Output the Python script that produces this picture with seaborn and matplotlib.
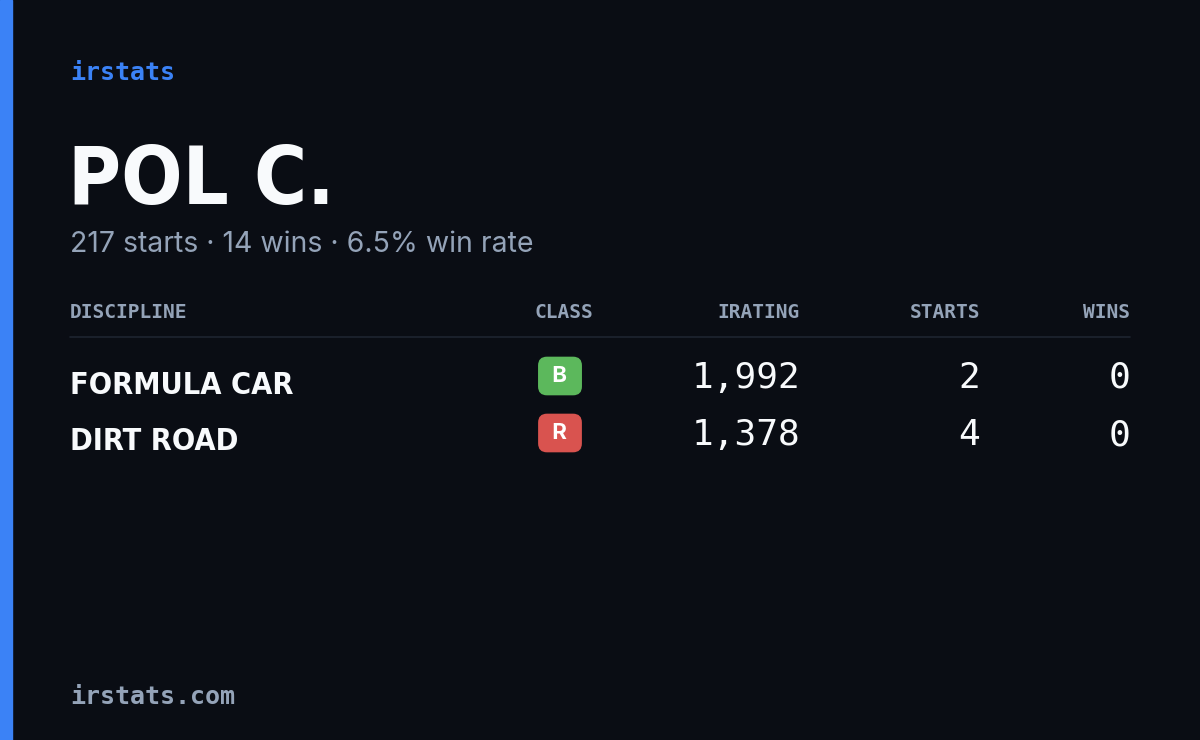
import matplotlib

matplotlib.use("Agg")

import matplotlib.pyplot as plt
import seaborn as sns
from matplotlib.patches import Rectangle

sns.set_theme(style="dark")

BG = "#0a0d14"
BLUE = "#3b82f6"
GREY = "#94a3b8"
WHITE = "#f8fafc"

driver = "POL C."
summary = "217 starts · 14 wins · 6.5% win rate"
headers = ["DISCIPLINE", "CLASS", "IRATING", "STARTS", "WINS"]
disciplines = ["FORMULA CAR", "DIRT ROAD"]
classes = ["B", "R"]
iratings = [1992, 1378]
starts = [2, 4]
wins = [0, 0]
class_colors = {"B": "#5cb85c", "R": "#d9534f"}

COND = ["DejaVu Sans"]
MONO = ["DejaVu Sans Mono"]
SANS = ["Inter", "DejaVu Sans"]

fig = plt.figure(figsize=(12, 7.4), dpi=100, facecolor=BG)
ax = fig.add_axes([0, 0, 1, 1])
ax.set_facecolor(BG)
ax.set_xlim(0, 1200)
ax.set_ylim(740, 0)
ax.axis("off")

ax.add_patch(Rectangle((0, 0), 12, 740, color=BLUE))

ax.text(70, 73, "irstats", color=BLUE, fontsize=18, family=MONO, va="center",
        weight="bold")
ax.text(68, 182, driver, color=WHITE, fontsize=58, family=COND, weight="bold",
        stretch="condensed", va="center")
ax.text(70, 245, summary, color=GREY, fontsize=20.5, family=SANS, va="center")

col_x = [70, 593, 800, 980, 1130]
col_ha = ["left", "right", "right", "right", "right"]
for x, ha, h in zip(col_x, col_ha, headers):
    ax.text(x, 313, h, color=GREY, fontsize=14, family=MONO, ha=ha, va="center",
            weight="bold")
ax.plot([70, 1130], [337, 337], color="#1e2430", lw=1.2)

row_y = [380, 437]
for y, d, c, ir, s, w in zip(row_y, disciplines, classes, iratings, starts, wins):
    ax.text(70, y + 5, d, color=WHITE, fontsize=22, family=COND, weight="bold",
            stretch="condensed", va="center")
    ax.text(560, y - 4, f" {c} ", color="white", fontsize=16, family=SANS,
            weight="bold", ha="center", va="center",
            bbox=dict(boxstyle="round,pad=0.42,rounding_size=0.4",
                      fc=class_colors[c], ec="none"))
    ax.text(800, y - 2, f"{ir:,}", color=WHITE, fontsize=26, family=MONO,
            ha="right", va="center")
    ax.text(980, y - 2, str(s), color=WHITE, fontsize=26, family=MONO,
            ha="right", va="center")
    ax.text(1130, y - 2, str(w), color=WHITE, fontsize=26, family=MONO,
            ha="right", va="center")

ax.text(70, 697, "irstats.com", color=GREY, fontsize=18, family=MONO, va="center",
        weight="bold")

fig.savefig("out.png", dpi=100, facecolor=BG)
